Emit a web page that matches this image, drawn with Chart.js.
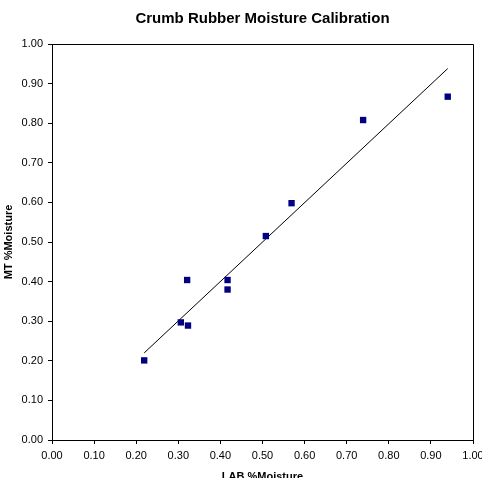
<!DOCTYPE html>
<html lang="en">
<head>
    <meta charset="UTF-8">
    <title>Crumb Rubber Moisture Calibration</title>
    <script src="https://cdn.jsdelivr.net/npm/chart.js"></script>
    <style>
        body {
            margin: 0;
            padding: 0;
            background: #fff;
        }
        canvas {
            display: block;
        }
    </style>
</head>
<body>

<canvas id="calChart" width="482" height="478"></canvas>

<script>
    // LAB vs MT moisture readings
    const labMoisture = [0.219, 0.306, 0.323, 0.321, 0.417, 0.417, 0.508, 0.569, 0.739, 0.940];
    const mtMoisture = [0.201, 0.297, 0.289, 0.404, 0.404, 0.380, 0.515, 0.598, 0.808, 0.867];

    // linear trendline end points
    const trendX = [0.219, 0.940];
    const trendY = [0.220, 0.938];

    const tickValues = [0, 0.1, 0.2, 0.3, 0.4, 0.5, 0.6, 0.7, 0.8, 0.9, 1.0];

    const fontFamily = "'Liberation Sans', Arial, sans-serif";

    // draws the top and right edges of the plot frame
    const frame = {
        id: 'frame',
        afterDatasetsDraw(chart) {
            const a = chart.chartArea;
            const ctx = chart.ctx;
            ctx.save();
            ctx.strokeStyle = '#000';
            ctx.lineWidth = 1;
            ctx.beginPath();
            ctx.moveTo(a.left, a.top + 0.5);
            ctx.lineTo(a.right + 0.5, a.top + 0.5);
            ctx.lineTo(a.right + 0.5, a.bottom);
            ctx.stroke();
            ctx.restore();
        }
    };

    function axis(titleText, isX) {
        return {
            type: 'linear',
            min: 0,
            max: 1,
            afterBuildTicks: s => { s.ticks = tickValues.map(v => ({value: v})); },
            afterFit: s => {
                if (isX) {
                    s.height = 38;
                    s.paddingLeft = 0;
                    s.paddingRight = 0;
                } else {
                    s.width = 52;
                    s.paddingTop = 0;
                    s.paddingBottom = 0;
                }
            },
            grid: {
                drawOnChartArea: false,
                drawTicks: true,
                tickLength: 4,
                color: '#000'
            },
            border: { color: '#000', width: 1 },
            ticks: {
                color: '#000',
                padding: 5,
                maxRotation: 0,
                autoSkip: false,
                font: { family: fontFamily, size: 11 },
                callback: v => v.toFixed(2)
            },
            title: {
                display: true,
                text: titleText,
                color: '#000',
                font: { family: fontFamily, size: 11, weight: 'bold' },
                padding: isX ? { top: 0, bottom: -6 } : { top: 2, bottom: 0 }
            }
        };
    }

    const ctx = document.getElementById('calChart').getContext('2d');
    new Chart(ctx, {
        type: 'scatter',
        data: {
            datasets: [{
                label: 'MT %Moisture',
                data: labMoisture.map((x, i) => ({x: x, y: mtMoisture[i]})),
                pointStyle: 'rect',
                pointRadius: 4.5,
                backgroundColor: '#000080',
                borderColor: '#000080',
                borderWidth: 0,
                order: 1
            }, {
                label: 'Linear trend',
                type: 'line',
                data: trendX.map((x, i) => ({x: x, y: trendY[i]})),
                borderColor: '#000',
                borderWidth: 1,
                pointRadius: 0,
                fill: false,
                order: 2
            }]
        },
        options: {
            responsive: false,
            animation: false,
            layout: { padding: { top: 0, left: 0, right: 9, bottom: 0 } },
            plugins: {
                legend: { display: false },
                tooltip: { enabled: false },
                title: {
                    display: true,
                    fullSize: false,
                    text: 'Crumb Rubber Moisture Calibration',
                    color: '#000',
                    font: { family: fontFamily, size: 15, weight: 'bold' },
                    padding: { top: 9.5, bottom: 16.5 }
                }
            },
            scales: {
                x: axis('LAB %Moisture', true),
                y: axis('MT %Moisture', false)
            }
        },
        plugins: [frame]
    });
</script>

</body>
</html>
